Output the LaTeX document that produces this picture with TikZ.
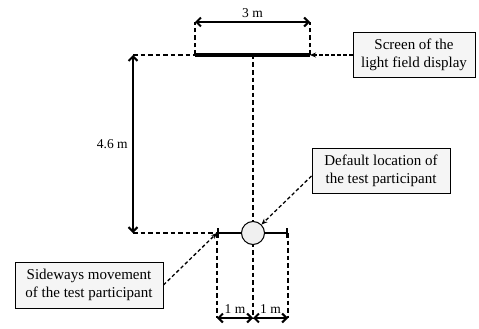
\documentclass[tikz,border=0pt]{standalone}
\usepackage{fontspec}
\setmainfont{Liberation Serif}
\usetikzlibrary{arrows.meta}
\begin{document}
\begin{tikzpicture}[x=1pt,y=-1pt,
  dim/.style={line width=2pt,{Straight Barb[length=4.5pt,width=9pt]}-{Straight Barb[length=4.5pt,width=9pt]}},
  guide/.style={dashed,line width=1.3pt,dash pattern=on 4.5pt off 3pt},
  callout/.style={dashed,line width=1.3pt,dash pattern=on 3.5pt off 2.5pt,-{Stealth[length=6pt,width=5pt]}},
  lbl/.style={font=\fontsize{13.5}{16}\selectfont},
  box/.style={draw,line width=1pt,fill=gray!8,align=center,inner sep=3pt,font=\fontsize{15}{18}\selectfont}]
\useasboundingbox (0,0) rectangle (479,329);
% coordinates
\coordinate (sL) at (195,55);
\coordinate (sR) at (310,55);
\coordinate (sC) at (253,55);
\coordinate (tL) at (195,22);
\coordinate (tR) at (310,22);
\coordinate (hL) at (133,55);
\coordinate (bL) at (133,233);
\coordinate (pL) at (217,233);
\coordinate (pR) at (288,233);
\coordinate (pC) at (253,233);
\coordinate (dL) at (217,318);
\coordinate (dR) at (288,318);
\coordinate (dC) at (253,318);
% screen
\draw[line width=4pt] (sL) -- (sR);
\draw[guide] (sL) -- (tL);
\draw[guide] (sR) -- (tR);
\draw[dim] (tL) -- node[lbl,above=0pt] (w3) {3 m} (tR);
\draw[guide] (hL) -- (sL);
% center line
\draw[guide] (sC) -- (dC);
% 4.6 m
\draw[dim] (hL) -- node[lbl,left=1pt] (h46) {4.6 m} (bL);
\draw[guide] (bL) -- (pL);
% participant
\draw[line width=2pt,{Bar[width=10pt]}-{Bar[width=10pt]}] (pL) -- (pR);
\node[circle,draw,line width=1pt,fill=gray!12,minimum size=23pt,inner sep=0pt] (circ) at (pC) {};
\draw[guide] (pL) -- (dL);
\draw[guide] (pR) -- (dR);
\draw[dim] (dL) -- node[lbl,above=0pt] (m1) {1 m} (dC);
\draw[dim] (dC) -- node[lbl,above=0pt] (m2) {1 m} (dR);
% boxes
\node[box,minimum width=122pt,minimum height=44pt] (screen) at (414,55) {Screen of the\\light field display};
\node[box,minimum width=138pt,minimum height=45pt] (default) at (381,170.5) {Default location of\\the test participant};
\node[box,minimum width=148pt,minimum height=46pt] (side) at (89,285) {Sideways movement\\of the test participant};
\draw[callout] (screen.west) -- (sR);
\draw[callout] (default.west |- 0,176) -- (circ.45);
\draw[callout] (side.east) -- (pL);
\end{tikzpicture}
\end{document}
